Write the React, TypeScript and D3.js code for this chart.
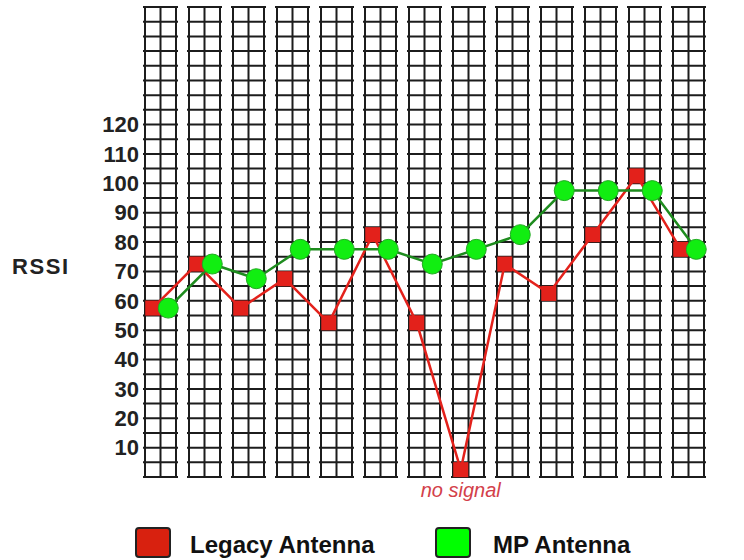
import React from "react";
import * as d3 from "d3";

const categories = ["1", "2", "3", "4", "5", "6", "7", "8", "9", "10", "11", "12", "13"];
const legacyValues = [57.5, 72.5, 57.5, 67.5, 52.5, 82.5, 52.5, 2.5, 72.5, 62.5, 82.5, 102.5, 77.5];
const mpValues = [57.5, 72.5, 67.5, 77.5, 77.5, 77.5, 72.5, 77.5, 82.5, 97.5, 97.5, 97.5, 77.5];
const tickLabels = [10, 20, 30, 40, 50, 60, 70, 80, 90, 100, 110, 120];
const seriesNames = ["Legacy Antenna", "MP Antenna"];

const W = 744;
const H = 560;

export default function App() {
  const colX = d3.scaleLinear().domain([0, categories.length - 1]).range([145, 673]);
  const colW = 31;
  const y = d3.scaleLinear().domain([0, 160]).range([477, 7]);
  const gridVals = d3.range(0, 160.01, 5);

  const redX = (i: number) => colX(i) + colW / 4;
  const greenX = (i: number) => colX(i) + (3 * colW) / 4;

  const redLine = d3
    .line<number>()
    .x((_, i) => redX(i))
    .y((d) => y(d));
  const greenLine = d3
    .line<number>()
    .x((_, i) => greenX(i))
    .y((d) => y(d));

  const font = "Arial, 'Liberation Sans', sans-serif";
  const noSignalIdx = legacyValues.findIndex((v) => v < 5);

  return (
    <svg
      width={W}
      height={H}
      style={{ position: "absolute", left: 0, top: 0, background: "#fff" }}
    >
      <g stroke="#1c1c1c" strokeWidth={2}>
        {categories.map((c, i) => {
          const x0 = colX(i);
          return (
            <g key={c}>
              {[0, 0.5, 1].map((f) => (
                <line
                  key={f}
                  x1={x0 + f * colW}
                  x2={x0 + f * colW}
                  y1={y(160)}
                  y2={y(0)}
                />
              ))}
              {gridVals.map((v) => (
                <line key={v} x1={x0 - 2} x2={x0 + colW + 2} y1={y(v)} y2={y(v)} />
              ))}
            </g>
          );
        })}
      </g>

      <g
        fontFamily={font}
        fontWeight="bold"
        fontSize={22}
        fill="#222"
        textAnchor="end"
      >
        {tickLabels.map((t) => (
          <text key={t} x={139} y={y(t) + 2} dominantBaseline="middle">
            {t}
          </text>
        ))}
      </g>
      <text
        x={12}
        y={268}
        fontFamily={font}
        fontWeight="bold"
        fontSize={22}
        fill="#222"
        dominantBaseline="middle"
        textLength={56}
        lengthAdjust="spacing"
      >
        RSSI
      </text>

      <path d={redLine(legacyValues) || ""} fill="none" stroke="#e3211b" strokeWidth={2.5} />
      <path d={greenLine(mpValues) || ""} fill="none" stroke="#1e8c1e" strokeWidth={2.5} />
      {legacyValues.map((v, i) => (
        <rect
          key={i}
          x={redX(i) - 7.5}
          y={y(v) - 7.5}
          width={15}
          height={15}
          fill="#e3211b"
        />
      ))}
      {mpValues.map((v, i) => (
        <circle
          key={i}
          cx={greenX(i)}
          cy={y(v)}
          r={10}
          fill="#11ee11"
          stroke="#22aa22"
          strokeWidth={1}
        />
      ))}

      {noSignalIdx >= 0 && (
        <text
          x={redX(noSignalIdx)}
          y={492}
          fontFamily={font}
          fontStyle="italic"
          fontSize={20}
          fill="#d3404a"
          textAnchor="middle"
          dominantBaseline="middle"
        >
          no signal
        </text>
      )}

      <g fontFamily={font} fontWeight="bold" fontSize={24} fill="#111">
        <rect x={136} y={528} width={34} height={29} rx={3} fill="#d8210f" stroke="#222" strokeWidth={2} />
        <text x={190} y={553}>{seriesNames[0]}</text>
        <rect x={436} y={528} width={34} height={29} rx={3} fill="#00ff00" stroke="#222" strokeWidth={2} />
        <text x={493} y={553}>{seriesNames[1]}</text>
      </g>
    </svg>
  );
}
